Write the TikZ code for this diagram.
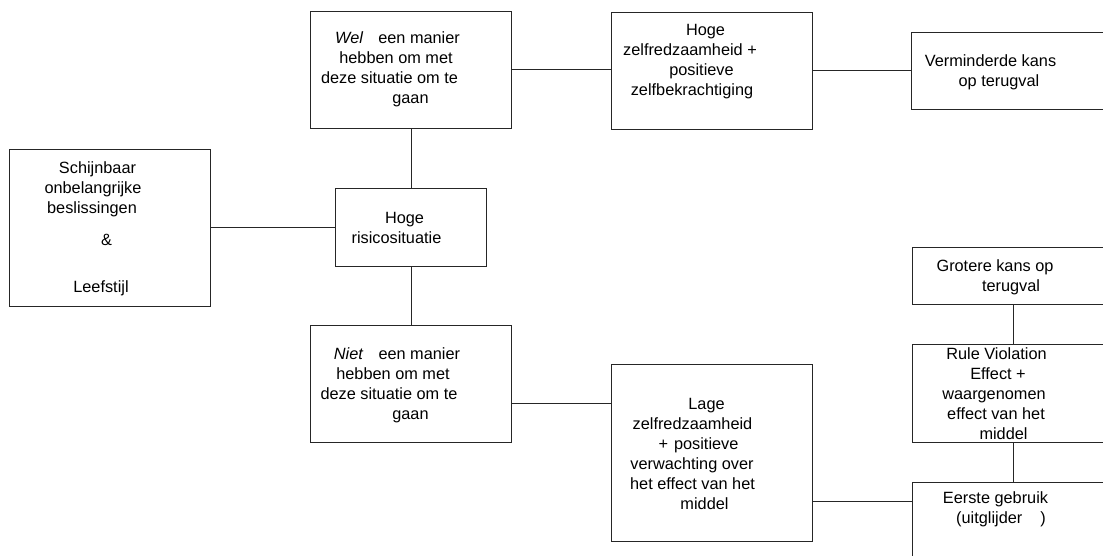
\documentclass[tikz,border=0pt]{standalone}
\usepackage{fontspec}
\setmainfont{Liberation Sans}
\newcommand\lab{\fontsize{16.3}{20}\selectfont}
\newcommand\mv[2]{\hbox{\kern#1\relax #2\kern-#1\relax}}
\begin{document}
\begin{tikzpicture}[x=1pt,y=-1pt,
  box/.style={draw=black!85, line width=1pt, rectangle, inner sep=0pt, anchor=north west},
  lbl/.style={align=center, inner sep=0pt, font=\lab},
  wire/.style={draw=black!85, line width=1pt}]
\useasboundingbox (0,0) rectangle (1103,556);
\clip (0,0) rectangle (1103,556);
% boxes
\node[box, minimum width=201pt, minimum height=157pt] (A) at (9,149) {};
\node[box, minimum width=151pt, minimum height=78pt] (Hr) at (335,188) {};
\node[box, minimum width=201pt, minimum height=117pt] (Wel) at (310,11) {};
\node[box, minimum width=201pt, minimum height=117pt] (HZ) at (611,12) {};
\node[box, minimum width=210pt, minimum height=77pt] (Vm) at (911,32) {};
\node[box, minimum width=201pt, minimum height=117pt] (Niet) at (310,325) {};
\node[box, minimum width=201pt, minimum height=177pt] (Lage) at (611,364) {};
\node[box, minimum width=202pt, minimum height=57pt] (Gr) at (912,247) {};
\node[box, minimum width=202pt, minimum height=98pt] (Rule) at (912,344) {};
\node[box, minimum width=202pt, minimum height=90pt] (Eer) at (912,482) {};
% labels
\node[lbl] (tA) at (109.5,228.5) {\mv{-12pt}{Schijnbaar}\\ \mv{-16.5pt}{onbelangrijke}\\ \mv{-17.5pt}{beslissingen}\\[12pt] \mv{-3pt}{\&}\\[27pt] \mv{-8.5pt}{Leefstijl}};
\node[lbl] (tHr) at (410.5,228) {\mv{-6pt}{Hoge}\\ \mv{-14pt}{risicosituatie}};
\node[lbl] (tWel) at (410.5,69) {\mv{-13pt}{\textit{Wel}\hspace{15pt}een manier}\\ \mv{-14.5pt}{hebben om met}\\ \mv{-21pt}{deze situatie om te}\\ gaan};
\node[lbl] (tHZ) at (711.5,62) {\mv{-6pt}{Hoge}\\ \mv{-21.5pt}{zelfredzaamheid +}\\ \mv{-10pt}{positieve}\\ \mv{-19.5pt}{zelfbekrachtiging}};
\node[lbl] (tVm) at (990,72) {\mv{0.5pt}{Verminderde kans}\\ \mv{9pt}{op terugval}};
\node[lbl] (tNiet) at (410.5,385) {\mv{-13.5pt}{\textit{Niet}\hspace{15pt}een manier}\\ \mv{-17.5pt}{hebben om met}\\ \mv{-21.5pt}{deze situatie om te}\\ gaan};
\node[lbl] (tLage) at (711.5,454) {\mv{-5pt}{Lage}\\ \mv{-19pt}{zelfredzaamheid}\\ \mv{-13pt}{+\hspace{6pt}positieve}\\ \mv{-19.5pt}{verwachting over}\\ \mv{-19pt}{het effect van het}\\ \mv{-7pt}{middel}};
\node[lbl] (tGr) at (995,277) {Grotere kans op\\ \mv{16pt}{terugval}};
\node[lbl] (tRule) at (995,394) {\mv{1.5pt}{Rule Violation}\\ \mv{3pt}{Effect +}\\ \mv{-1pt}{waargenomen}\\ \mv{1pt}{effect van het}\\ \mv{8.5pt}{middel}};
\node[lbl] (tEer) at (995,509) {\mv{0.5pt}{Eerste gebruik}\\ \mv{6pt}{(uitglijder\hspace{18pt})}};
% connectors
\draw[wire] (A.east) -- (A.east -| Hr.west);
\draw[wire] (Wel.south) -- (Hr.north);
\draw[wire] (Hr.south) -- (Niet.north);
\draw[wire] (Wel.east) -- (Wel.east -| HZ.west);
\draw[wire] (HZ.east) -- (HZ.east -| Vm.west);
\draw[wire] ([yshift=-19.5pt]Niet.east) coordinate (p1) -- (p1 -| Lage.west);
\draw[wire] ([yshift=-48.5pt]Lage.east) coordinate (p2) -- (p2 -| Eer.west);
\draw[wire] (Gr.south) -- (Rule.north);
\draw[wire] (Rule.south) -- (Eer.north);
\end{tikzpicture}
\end{document}
